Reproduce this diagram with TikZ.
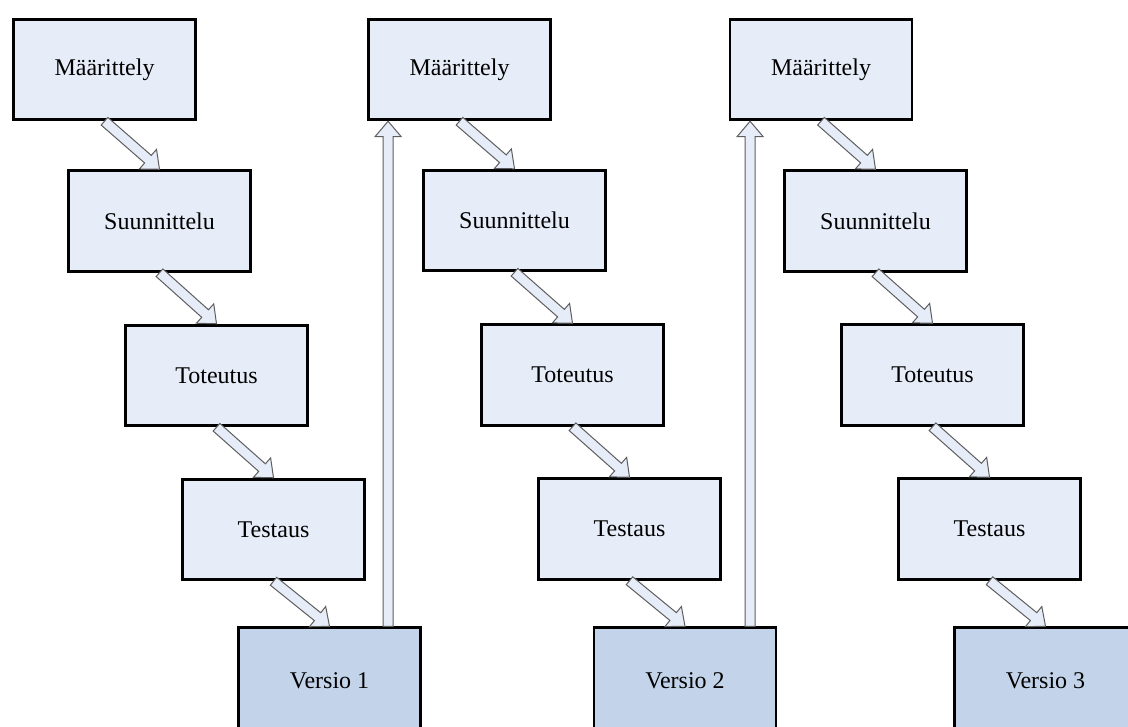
\documentclass[tikz,border=0pt]{standalone}
\usepackage{fontspec}
\setmainfont{Liberation Serif}
\usetikzlibrary{calc}

\definecolor{vaalea}{HTML}{E6EDF8}
\definecolor{versiosin}{HTML}{C3D3E9}
\definecolor{reuna}{HTML}{5E5E5E}

\tikzset{
  vaihe/.style={draw=black,line width=2.1pt,fill=vaalea,minimum width=136.5pt,
    minimum height=75.5pt,inner sep=0pt,font=\fontsize{18}{21}\selectfont},
  versio/.style={vaihe,fill=versiosin,minimum height=80pt},
  ontto/.style={draw=reuna,line width=0.75pt,fill=vaalea,line join=miter}
}

\newcommand{\onttonuoli}[2]{%
  \path ($(#2)!11.5pt!(#1)$) coordinate (hb);
  \draw[ontto] ($(#1)!3.8pt!90:(#2)$) -- ($(hb)!3.8pt!90:(#2)$)
    -- ($(hb)!9.75pt!90:(#2)$) -- (#2) -- ($(hb)!9.75pt!-90:(#2)$)
    -- ($(hb)!3.8pt!-90:(#2)$) -- ($(#1)!3.8pt!-90:(#2)$) -- cycle;
}

\begin{document}
\begin{tikzpicture}[x=0.75pt,y=-0.75pt]
  \useasboundingbox (0,0) rectangle (1128,726);
  \clip (0,0) rectangle (1128,726);

  \node[vaihe] (maar1) at (104.5,69.5) {Määrittely};
  \node[vaihe] (suun1) at (159.5,221) {Suunnittelu};
  \node[vaihe] (tot1) at (216.5,375.5) {Toteutus};
  \node[vaihe] (test1) at (273.5,529.5) {Testaus};
  \node[versio] (ver1) at (329.5,681) {Versio 1};

  \node[vaihe] (maar2) at (459.5,69.5) {Määrittely};
  \node[vaihe] (suun2) at (514.5,220.5) {Suunnittelu};
  \node[vaihe] (tot2) at (572.5,375) {Toteutus};
  \node[vaihe] (test2) at (629.5,529) {Testaus};
  \node[versio] (ver2) at (685,681) {Versio 2};

  \node[vaihe] (maar3) at (821,69.5) {Määrittely};
  \node[vaihe] (suun3) at (875.5,221) {Suunnittelu};
  \node[vaihe] (tot3) at (932.5,375) {Toteutus};
  \node[vaihe] (test3) at (989.5,529) {Testaus};
  \node[versio] (ver3) at (1045.5,681) {Versio 3};

  \onttonuoli{maar1.south}{suun1.north}
  \onttonuoli{suun1.south}{tot1.north}
  \onttonuoli{tot1.south}{test1.north}
  \onttonuoli{test1.south}{ver1.north}

  \onttonuoli{maar2.south}{suun2.north}
  \onttonuoli{suun2.south}{tot2.north}
  \onttonuoli{tot2.south}{test2.north}
  \onttonuoli{test2.south}{ver2.north}

  \onttonuoli{maar3.south}{suun3.north}
  \onttonuoli{suun3.south}{tot3.north}
  \onttonuoli{tot3.south}{test3.north}
  \onttonuoli{test3.south}{ver3.north}

  \coordinate (ylos1) at ($(maar2.south west)+(21,0)$);
  \coordinate (ylos2) at ($(maar3.south west)+(21.5,0)$);
  \onttonuoli{ylos1 |- ver1.north}{ylos1}
  \onttonuoli{ylos2 |- ver2.north}{ylos2}
\end{tikzpicture}
\end{document}
